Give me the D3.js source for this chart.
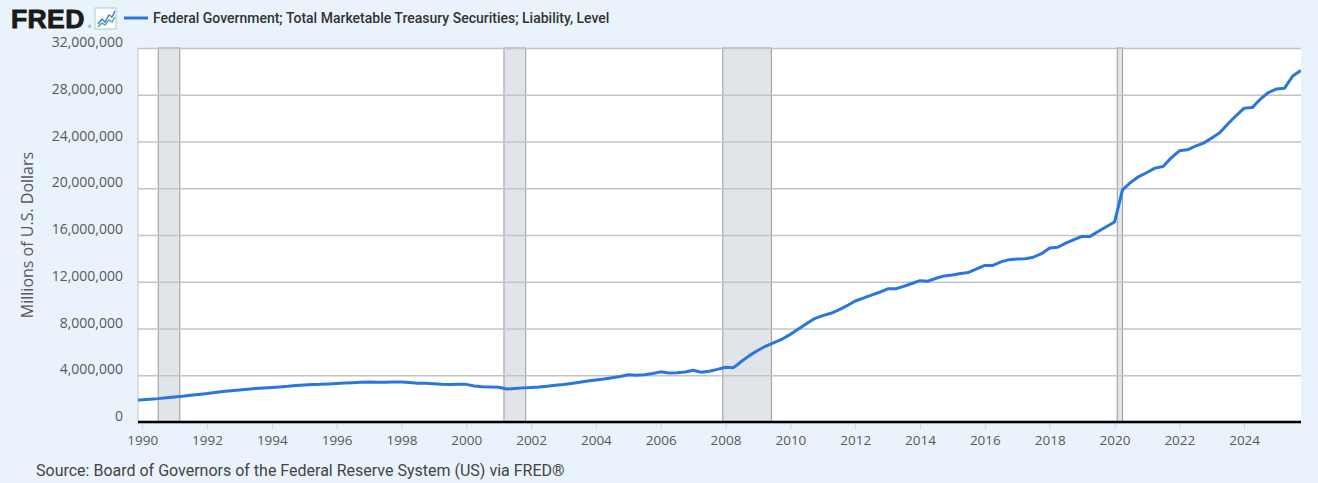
<!DOCTYPE html>
<html>
<head>
<meta charset="utf-8">
<script src="https://cdn.jsdelivr.net/npm/d3@7"></script>
<style>
  html, body { margin: 0; padding: 0; background: #eaf2fb; }
  svg { display: block; font-family: Roboto, "Noto Sans", sans-serif; }
</style>
</head>
<body>
<div id="chart"></div>
<script>
var seriesTitle = "Federal Government; Total Marketable Treasury Securities; Liability, Level";
var yTitle = "Millions of U.S. Dollars";
var sourceText = "Source: Board of Governors of the Federal Reserve System (US) via FRED\u00ae";

/* quarterly observations, first one is 1989 Q4 (trillions of dollars = millions of millions) */
var firstQuarter = new Date(1989, 9, 1);
var levels = [
  1.88,
  1.90, 1.95, 2.00, 2.07,
  2.14, 2.20, 2.28, 2.36,
  2.43, 2.52, 2.60, 2.68,
  2.74, 2.80, 2.86, 2.91,
  2.96, 3.00, 3.05, 3.12,
  3.16, 3.20, 3.22, 3.26,
  3.30, 3.33, 3.36, 3.40,
  3.43, 3.40, 3.40, 3.42,
  3.42, 3.38, 3.32, 3.32,
  3.28, 3.23, 3.20, 3.24,
  3.22, 3.08, 3.02, 3.00,
  2.98, 2.82, 2.87, 2.92,
  2.96, 3.00, 3.06, 3.14,
  3.20, 3.30, 3.40, 3.50,
  3.60, 3.68, 3.78, 3.90,
  4.05, 4.00, 4.05, 4.15,
  4.29, 4.20, 4.22, 4.28,
  4.43, 4.26, 4.35, 4.50,
  4.69, 4.65, 5.20, 5.70,
  6.14, 6.50, 6.80, 7.10,
  7.50, 7.95, 8.40, 8.85,
  9.10, 9.30, 9.60, 9.95,
  10.35, 10.60, 10.85, 11.10,
  11.40, 11.40, 11.60, 11.85,
  12.09, 12.05, 12.30, 12.50,
  12.58, 12.70, 12.80, 13.10,
  13.40, 13.40, 13.70, 13.89,
  13.95, 13.97, 14.10, 14.40,
  14.89, 14.95, 15.30, 15.60,
  15.88, 15.88, 16.30, 16.70,
  17.11, 19.87, 20.50, 21.00,
  21.35, 21.72, 21.86, 22.60,
  23.20, 23.29, 23.60, 23.86,
  24.30, 24.75, 25.50, 26.20,
  26.85, 26.90, 27.62, 28.19,
  28.50, 28.56, 29.60, 30.07
];

var recessions = [
  ["1990-07-01", "1991-03-01"],
  ["2001-03-01", "2001-11-01"],
  ["2007-12-01", "2009-06-01"],
  ["2020-02-01", "2020-04-01"]
];

var yTicks = [0, 4e6, 8e6, 12e6, 16e6, 20e6, 24e6, 28e6, 32e6];
var xDomain = [new Date(1989, 10, 15), new Date(2025, 9, 3)];

var chart = {
  width: 1318,
  height: 483,
  top: 48,
  right: 17,
  bottom: 61,
  left: 138,
};

var data = levels.map(function (v, i) {
  return { date: d3.timeMonth.offset(firstQuarter, i * 3), value: v * 1e6 };
});

var svg = d3.select("#chart")
  .append("svg")
  .attr("width", chart.width)
  .attr("height", chart.height);

var innerW = chart.width - chart.left - chart.right;
var innerH = chart.height - chart.top - chart.bottom;

var x = d3.scaleTime().domain(xDomain).range([0, innerW]);
var y = d3.scaleLinear().domain([0, 32e6]).range([innerH, 0]);

/* header: logo + legend */
var head = svg.append("g");
head.append("text")
  .attr("x", 11)
  .attr("y", 28)
  .style("font-family", "'Liberation Sans', Arial, sans-serif")
  .style("font-weight", "900")
  .style("font-size", "26.5px")
  .style("letter-spacing", "0.4px")
  .style("fill", "#1a1a1a")
  .style("stroke", "#1a1a1a")
  .style("stroke-width", "0.9px")
  .text("FRED");
head.append("text")
  .attr("x", 88)
  .attr("y", 28)
  .style("font-size", "4px")
  .style("fill", "#555")
  .text("\u00ae");

var icon = head.append("g").attr("transform", "translate(95,8)");
icon.append("rect")
  .attr("width", 21).attr("height", 21)
  .attr("fill", "#fff").attr("stroke", "#b8c4d2").attr("stroke-width", 1);
icon.append("path")
  .attr("d", "M3,16 L7,11 L10,14 L14,7 L17,9 L20,3")
  .attr("fill", "none").attr("stroke", "#3a78d8").attr("stroke-width", 1.4);
icon.append("path")
  .attr("d", "M3,19 L7,15 L10,17 L14,12 L17,14 L20,9")
  .attr("fill", "none").attr("stroke", "#46b08a").attr("stroke-width", 1.4);

head.append("line")
  .attr("x1", 124).attr("x2", 148).attr("y1", 18).attr("y2", 18)
  .attr("stroke", "#2a76e0").attr("stroke-width", 3);
head.append("text")
  .attr("x", 153)
  .attr("y", 23)
  .style("font-size", "14px")
  .style("font-weight", "500")
  .style("fill", "#333")
  .text(seriesTitle);

var g = svg.append("g")
  .attr("transform", "translate(" + chart.left + "," + chart.top + ")");

g.append("rect")
  .attr("width", innerW).attr("height", innerH)
  .attr("fill", "#fff");

/* recession bars */
g.selectAll(".recession")
  .data(recessions)
  .enter()
  .append("rect")
  .attr("class", "recession")
  .attr("x", function (d) { return x(new Date(d[0])); })
  .attr("width", function (d) { return x(new Date(d[1])) - x(new Date(d[0])); })
  .attr("y", 0)
  .attr("height", innerH)
  .attr("fill", "#e1e5ea")
  .attr("stroke", "#9a9a9a")
  .attr("stroke-width", 1);

/* y grid + labels */
g.append("g")
  .call(d3.axisLeft(y).tickValues(yTicks).tickSize(-innerW).tickPadding(15).tickFormat(d3.format(",")))
  .call(function (a) {
    a.select(".domain").remove();
    a.selectAll(".tick line").attr("stroke", "#c4c4c4").attr("stroke-width", 1.5);
    a.selectAll(".tick text")
      .attr("dy", "-0.1em")
      .style("font-family", "'Open Sans', sans-serif")
      .style("font-size", "14px")
      .style("fill", "#595959");
  });

/* left border */
g.append("line")
  .attr("x1", 0).attr("x2", 0).attr("y1", 0).attr("y2", innerH)
  .attr("stroke", "#c4c4c4");

/* series line */
g.append("path")
  .datum(data)
  .attr("fill", "none")
  .attr("stroke", "#2a76e0")
  .attr("stroke-width", 3)
  .attr("stroke-linejoin", "round")
  .attr("clip-path", "url(#plotClip)")
  .attr("d", d3.line()
    .x(function (d) { return x(d.date); })
    .y(function (d) { return y(d.value); }));

g.append("clipPath").attr("id", "plotClip")
  .append("rect").attr("width", innerW).attr("height", innerH);

/* x axis */
g.append("g")
  .attr("transform", "translate(0," + innerH + ")")
  .call(d3.axisBottom(x).ticks(d3.timeYear.every(2)).tickSize(8).tickPadding(5).tickFormat(d3.timeFormat("%Y")))
  .call(function (a) {
    a.select(".domain").remove();
    a.selectAll(".tick line").attr("stroke", "#ccd6eb");
    a.selectAll(".tick text")
      .style("font-family", "'Open Sans', sans-serif")
      .style("font-size", "13.5px")
      .style("fill", "#595959");
  });

g.append("line")
  .attr("x1", 0).attr("x2", innerW).attr("y1", innerH).attr("y2", innerH)
  .attr("stroke", "#000").attr("stroke-width", 2.5);

/* y title */
svg.append("text")
  .attr("transform", "translate(33," + (chart.top + innerH / 2) + ") rotate(-90)")
  .attr("text-anchor", "middle")
  .style("font-family", "'Open Sans', sans-serif")
  .style("font-size", "16px")
  .style("fill", "#595959")
  .text(yTitle);

/* source */
svg.append("text")
  .attr("x", 36)
  .attr("y", 476)
  .style("font-size", "16px")
  .style("fill", "#444")
  .text(sourceText);
</script>
</body>
</html>
